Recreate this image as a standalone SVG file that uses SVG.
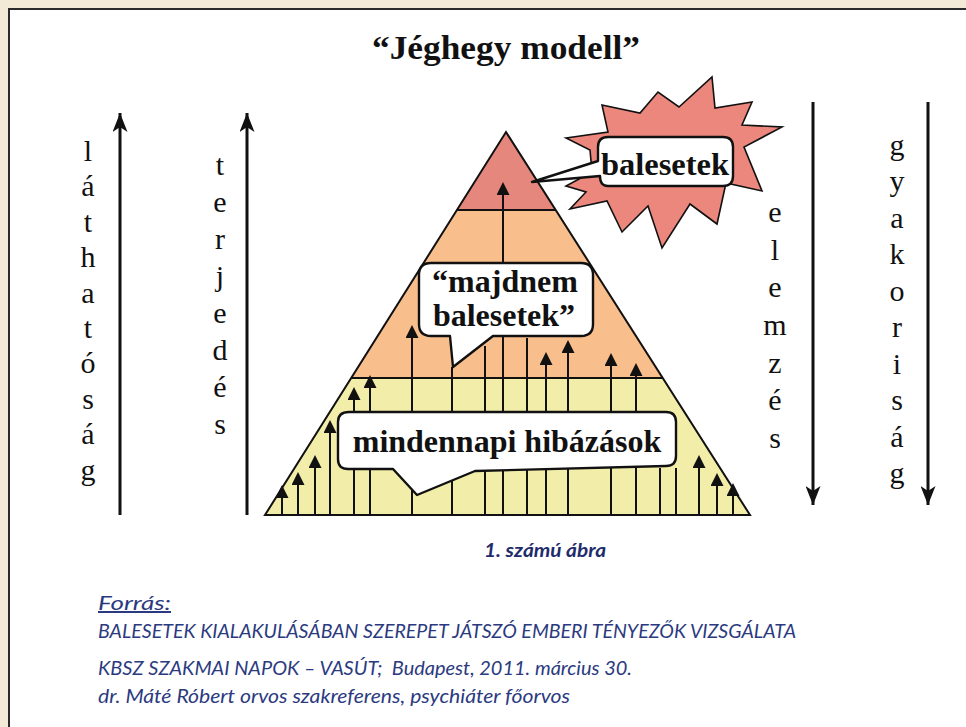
<svg xmlns="http://www.w3.org/2000/svg" width="966" height="727" viewBox="0 0 966 727">
<defs>
<style>
.ser{font-family:"Liberation Serif","Times New Roman",serif;fill:#111}
.bold{font-weight:bold}
.axis{font-size:30px;text-anchor:middle}
.ln{stroke:#111;stroke-width:2;fill:none}
.up{stroke:#111;stroke-width:2;fill:none;marker-end:url(#tri)}
.big{stroke:#111;stroke-width:3;fill:none;marker-end:url(#dart)}
.bub{fill:#fff;stroke:#111;stroke-width:2.4;stroke-linejoin:round}
.foot{font-family:Lato,"Open Sans",sans-serif;font-style:italic;font-size:20px;fill:#2b3a80}
</style>
<marker id="tri" viewBox="0 0 13 13" refX="10" refY="6.5" markerWidth="13" markerHeight="13" markerUnits="userSpaceOnUse" orient="auto">
<path d="M0,0 L13,6.5 L0,13 Z" fill="#111"/>
</marker>
<marker id="dart" viewBox="0 0 19 15" refX="19" refY="7.5" markerWidth="19" markerHeight="15" markerUnits="userSpaceOnUse" orient="auto">
<path d="M0,0 L19,7.5 L0,15 L5,7.5 Z" fill="#111"/>
</marker>
</defs>

<g id="background">
<rect x="0" y="0" width="966" height="727" fill="#f3e9d7"/>
<rect x="9" y="9" width="975" height="740" fill="#fff" stroke="#2a2a2a" stroke-width="2"/>
</g>

<g id="title">
<text class="ser bold" x="506" y="59" font-size="34" text-anchor="middle" textLength="268" lengthAdjust="spacingAndGlyphs">“Jéghegy modell”</text>
</g>

<g id="pyramid">
<polygon points="506,132 555.7,210 456.9,210" fill="#e6877d"/>
<polygon points="456.9,210 555.7,210 662.7,378 351.2,378" fill="#f8be8c"/>
<polygon points="351.2,378 662.7,378 750,515 265,515" fill="#f2eeaa"/>
<line class="ln" x1="456.9" y1="210" x2="555.7" y2="210"/>
<line class="ln" x1="351.2" y1="378" x2="662.7" y2="378"/>
<polygon points="506,132 750,515 265,515" class="ln"/>
</g>

<g id="connectors">
<line class="up" x1="282" y1="515" x2="282" y2="488"/>
<line class="up" x1="298" y1="515" x2="298" y2="475"/>
<line class="up" x1="315" y1="515" x2="315" y2="458"/>
<line class="up" x1="330" y1="515" x2="330" y2="423"/>
<line class="up" x1="354" y1="515" x2="354" y2="390"/>
<line class="up" x1="370" y1="515" x2="370" y2="378"/>
<line class="up" x1="412" y1="515" x2="412" y2="328"/>
<line class="ln" x1="452" y1="515" x2="452" y2="367"/>
<line class="ln" x1="485" y1="515" x2="485" y2="346"/>
<line class="up" x1="503" y1="515" x2="503" y2="185"/>
<line class="ln" x1="527" y1="515" x2="527" y2="338"/>
<line class="up" x1="546" y1="515" x2="546" y2="355"/>
<line class="up" x1="568" y1="515" x2="568" y2="343"/>
<line class="up" x1="611" y1="515" x2="611" y2="356"/>
<line class="up" x1="636" y1="515" x2="636" y2="366"/>
<line class="ln" x1="660" y1="515" x2="660" y2="468"/>
<line class="ln" x1="676" y1="515" x2="676" y2="468"/>
<line class="up" x1="699" y1="515" x2="699" y2="458"/>
<line class="up" x1="717" y1="515" x2="717" y2="476"/>
<line class="up" x1="733" y1="515" x2="733" y2="486"/>
<line class="big" x1="120" y1="515" x2="120" y2="113"/>
<line class="big" x1="247" y1="515" x2="247" y2="113"/>
<line class="big" x1="813" y1="102" x2="813" y2="505"/>
<line class="big" x1="928" y1="102" x2="928" y2="505"/>
</g>

<g id="node-balesetek">
<polygon points="566,138 608,132 602,105 640,113 658,92 679,107 712,77 715,108 752,102 742,125 782,127 744,147 762,191 726,183 717,224 690,204 662,248 648,206 622,232 607,201 570,209 586,192 566,186 592,172 590,150" fill="#eb877d" stroke="#111" stroke-width="1.6" stroke-linejoin="miter"/>
<path class="bub" d="M608,137 H723 Q733,137 733,147 V176 Q733,186 723,186 H608 Q600,186 600,176 L532,182 L598,161 V147 Q598,137 608,137 Z"/>
<text class="ser bold" x="665" y="175" font-size="32" text-anchor="middle" textLength="128" lengthAdjust="spacingAndGlyphs">balesetek</text>
</g>

<g id="node-majdnem">
<path class="bub" d="M431,263 H581 Q593,263 593,275 V324 Q593,336 581,336 H493 L453,367 L450,336 H431 Q419,336 419,324 V275 Q419,263 431,263 Z"/>
<text class="ser bold" x="505" y="292" font-size="32" text-anchor="middle">“majdnem</text>
<text class="ser bold" x="504" y="326" font-size="32" text-anchor="middle">balesetek”</text>
</g>

<g id="node-mindennapi">
<path class="bub" d="M349,412 H666 Q676,412 676,422 V456 Q676,466 666,466 L475,471 L417,495 L393,469 H348 Q338,469 338,459 V422 Q338,412 349,412 Z"/>
<text class="ser bold" x="507" y="452" font-size="32" text-anchor="middle">mindennapi hibázások</text>
</g>

<g id="axis-labels">
<text class="ser axis"><tspan x="88" y="161">l</tspan><tspan x="88" y="196">á</tspan><tspan x="88" y="232">t</tspan><tspan x="88" y="267">h</tspan><tspan x="88" y="303">a</tspan><tspan x="88" y="338">t</tspan><tspan x="88" y="373">ó</tspan><tspan x="88" y="409">s</tspan><tspan x="88" y="444">á</tspan><tspan x="88" y="480">g</tspan></text>
<text class="ser axis"><tspan x="220" y="175">t</tspan><tspan x="220" y="212">e</tspan><tspan x="220" y="249">r</tspan><tspan x="220" y="286">j</tspan><tspan x="220" y="323">e</tspan><tspan x="220" y="360">d</tspan><tspan x="220" y="397">é</tspan><tspan x="220" y="434">s</tspan></text>
<text class="ser axis"><tspan x="775" y="222">e</tspan><tspan x="775" y="260">l</tspan><tspan x="775" y="297">e</tspan><tspan x="775" y="335">m</tspan><tspan x="775" y="373">z</tspan><tspan x="775" y="410">é</tspan><tspan x="775" y="448">s</tspan></text>
<text class="ser axis"><tspan x="897" y="155">g</tspan><tspan x="897" y="191">y</tspan><tspan x="897" y="228">a</tspan><tspan x="897" y="264">k</tspan><tspan x="897" y="301">o</tspan><tspan x="897" y="337">r</tspan><tspan x="897" y="374">i</tspan><tspan x="897" y="410">s</tspan><tspan x="897" y="447">á</tspan><tspan x="897" y="483">g</tspan></text>
</g>

<g id="caption">
<text x="545" y="557" font-family="Lato,'Open Sans',sans-serif" font-style="italic" font-weight="bold" font-size="18" fill="#1f2c6c" text-anchor="middle" textLength="122" lengthAdjust="spacingAndGlyphs">1. számú ábra</text>
</g>

<g id="source">
<text class="foot" x="98" y="610" text-decoration="underline" textLength="73" lengthAdjust="spacingAndGlyphs">Forrás:</text>
<text class="foot" x="98" y="638" textLength="698" lengthAdjust="spacingAndGlyphs">BALESETEK KIALAKULÁSÁBAN SZEREPET JÁTSZÓ EMBERI TÉNYEZŐK VIZSGÁLATA</text>
<text class="foot" x="98" y="675" textLength="534" lengthAdjust="spacingAndGlyphs">KBSZ SZAKMAI NAPOK – VASÚT;&#160; Budapest, 2011. március 30.</text>
<text class="foot" x="98" y="703" textLength="472" lengthAdjust="spacingAndGlyphs">dr. Máté Róbert orvos szakreferens, psychiáter főorvos</text>
</g>
</svg>
